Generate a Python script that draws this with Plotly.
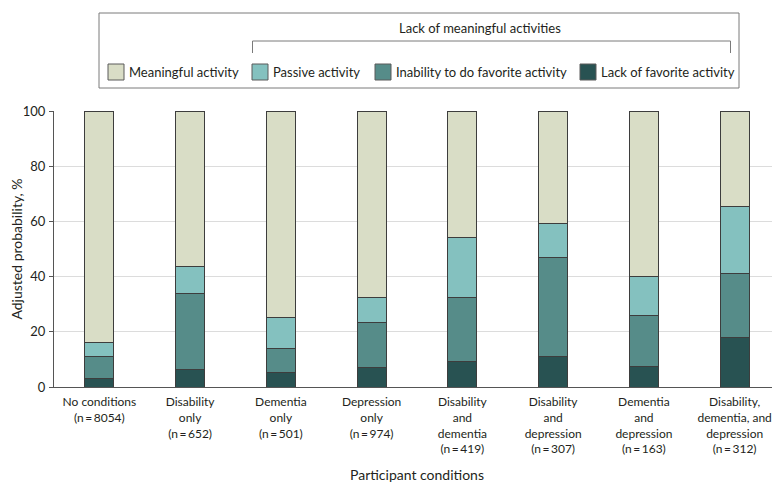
import plotly.graph_objects as go

categories = [
    "No conditions<br>(n\u2009=\u20098054)",
    "Disability<br>only<br>(n\u2009=\u2009652)",
    "Dementia<br>only<br>(n\u2009=\u2009501)",
    "Depression<br>only<br>(n\u2009=\u2009974)",
    "Disability<br>and<br>dementia<br>(n\u2009=\u2009419)",
    "Disability<br>and<br>depression<br>(n\u2009=\u2009307)",
    "Dementia<br>and<br>depression<br>(n\u2009=\u2009163)",
    "Disability,<br>dementia, and<br>depression<br>(n\u2009=\u2009312)",
]
lack_favorite = [3.0, 6.2, 5.4, 6.9, 9.1, 11.0, 7.5, 17.9]
inability_favorite = [8.2, 27.5, 8.7, 16.3, 23.5, 35.8, 18.3, 23.2]
passive = [5.1, 10.0, 11.2, 9.1, 21.5, 12.3, 14.1, 24.2]
meaningful = [
    round(100 - a - b - c, 1)
    for a, b, c in zip(lack_favorite, inability_favorite, passive)
]
y_ticks = [0, 20, 40, 60, 80, 100]

series = [
    ("Lack of favorite activity", lack_favorite, "#285252"),
    ("Inability to do favorite activity", inability_favorite, "#568c89"),
    ("Passive activity", passive, "#84c1bf"),
    ("Meaningful activity", meaningful, "#d9ddc6"),
]

FONT = "Lato, 'Liberation Sans', sans-serif"
TEXT = "#231f20"
# the page body adds an 8px margin, so the figure is drawn 8px smaller
OFF = 8
W, H = 780 - OFF, 492 - OFF
L, R, T, B = 54 - OFF, 0, 111 - OFF, 105


def px(x):
    return (x - OFF - L) / (W - L - R)


def py(y):
    return (H - B - (y - OFF)) / (H - T - B)


fig = go.Figure()
for name, values, color in series:
    fig.add_trace(
        go.Bar(
            x=categories,
            y=values,
            name=name,
            width=0.32,
            marker={"color": color, "line": {"color": "#3d3d3d", "width": 1}},
            showlegend=False,
            hovertemplate=f"{name}<br>%{{y:.1f}}%<extra></extra>",
        )
    )

# legend drawn by hand: box, bracket, swatches
shapes = [
    dict(type="rect", xref="paper", yref="paper", x0=px(99), x1=px(739),
         y0=py(13), y1=py(88), line={"color": "#7a7a7a", "width": 1},
         fillcolor="rgba(0,0,0,0)"),
    dict(type="path", xref="paper", yref="paper",
         path=f"M {px(252.5)} {py(53)} L {px(252.5)} {py(41)} "
              f"L {px(730.5)} {py(41)} L {px(730.5)} {py(53)}",
         line={"color": "#7a7a7a", "width": 1}),
]
annotations = [
    dict(text="Lack of meaningful activities", x=px(480), y=py(28),
         xref="paper", yref="paper", xanchor="center", yanchor="middle",
         showarrow=False, font={"size": 13, "color": TEXT, "family": FONT}),
]
legend_items = [
    ("Meaningful activity", "#d9ddc6", 108),
    ("Passive activity", "#84c1bf", 252),
    ("Inability to do favorite activity", "#568c89", 375),
    ("Lack of favorite activity", "#285252", 580),
]
for label, color, x0 in legend_items:
    shapes.append(
        dict(type="rect", xref="paper", yref="paper", x0=px(x0), x1=px(x0 + 16),
             y0=py(64), y1=py(80), fillcolor=color,
             line={"color": "#5a5a5a", "width": 1})
    )
    annotations.append(
        dict(text=label, x=px(x0 + 19), y=py(72), xref="paper", yref="paper",
             xanchor="left", yanchor="middle", showarrow=False,
             font={"size": 13, "color": TEXT, "family": FONT})
    )

fig.update_layout(
    barmode="stack",
    width=W,
    height=H,
    margin={"l": L, "r": R, "t": T, "b": B},
    paper_bgcolor="white",
    plot_bgcolor="white",
    font={"family": FONT, "size": 13, "color": TEXT},
    shapes=shapes,
    annotations=annotations,
)
fig.update_xaxes(
    range=[-0.5, 7.5],
    automargin=False,
    showline=True,
    linecolor="#555555",
    linewidth=1,
    ticks="",
    ticklabelstandoff=4,
    tickfont={"size": 12},
    title={"text": "Participant conditions", "font": {"size": 14}, "standoff": 14},
)
fig.update_yaxes(
    range=[0, 100],
    automargin=False,
    tickvals=y_ticks,
    showgrid=True,
    gridcolor="#dcdcdc",
    gridwidth=1,
    showline=True,
    linecolor="#555555",
    ticks="outside",
    ticklen=4,
    tickcolor="#555555",
    ticklabelstandoff=1,
    tickfont={"size": 13},
    title={"text": "Adjusted probability, %", "font": {"size": 14}, "standoff": 10},
    zeroline=False,
)

fig.write_html("out.html")
